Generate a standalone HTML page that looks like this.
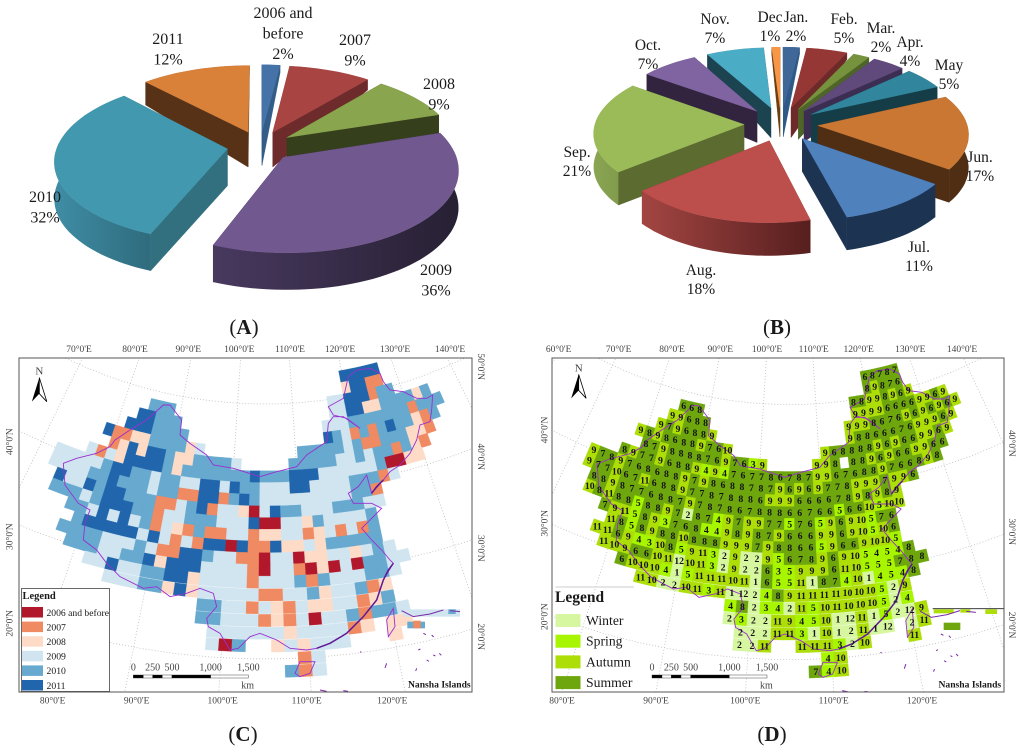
<!DOCTYPE html>
<html lang="en">
<head>
<meta charset="utf-8">
<title>Image acquisition year and month charts and maps</title>
<style>
html,body{margin:0;padding:0;background:#fff;width:1024px;height:752px;overflow:hidden}
svg{display:block}
text{font-family:"Liberation Serif",serif;fill:#1a1a1a}
</style>
</head>
<body>
<svg id="figure" xmlns="http://www.w3.org/2000/svg" width="1024" height="752" viewBox="0 0 1024 752">
<defs>
<clipPath id="clip-c"><rect x="19" y="358" width="453" height="334"/></clipPath>
<clipPath id="clip-d"><rect x="552" y="358" width="452" height="334"/></clipPath>
</defs>
<g id="pie-a"></g>
<g id="pie-b"></g>
<g id="map-c"></g>
<g id="map-d"></g>
<g id="captions">
<text x="244" y="334" font-size="21" text-anchor="middle">(<tspan font-weight="bold">A</tspan>)</text>
<text x="777" y="334" font-size="21" text-anchor="middle">(<tspan font-weight="bold">B</tspan>)</text>
<text x="243" y="741" font-size="21" text-anchor="middle">(<tspan font-weight="bold">C</tspan>)</text>
<text x="772" y="741" font-size="21" text-anchor="middle">(<tspan font-weight="bold">D</tspan>)</text>
</g>
</svg>
<script>
/* ---------- chart data ---------- */
const yearNames = ["2006 and\nbefore", "2007", "2008", "2009", "2010", "2011"];
const yearShares = [2, 9, 9, 36, 32, 12];
const monthNames = ["Jan.", "Feb.", "Mar.", "Apr.", "May", "Jun.", "Jul.", "Aug.", "Sep.", "Oct.", "Nov.", "Dec"];
const monthShares = [2, 5, 2, 4, 5, 17, 11, 18, 21, 7, 7, 1];

/* grid cells of map D: acquisition month. "startColumn:values|startColumn:values" per grid row */
const monthRows = [
"10:6 8 7 8 7",
"10:8 9 8 7 6",
"8:8 8 9 9 8 9 6 9",
"-13:6 6 8|8:9 9 9 9 6 6 6 6 9 9 6 9",
"-14:9 9 6 8 8|7:9 9 9 8 6 7 6 9 6 9 6 9 6 9",
"-15:9 7 9 6 8 8 9|7:9 8 8 6 6 6 7 6 9 9 9 6 9",
"-17:9 8 9 8 6 8 8 9 7 6 10|4:9 6 8 8 8 8 9 6 9 6 6 9 9 6 9",
"-16:8 7 9 8 8 8 8 7 6 9 7 6 3 9|3:9 9 8 . 8 8 9 6 9 6 6 9 9 6 6",
"-18:8 9 7 7 9 6 8 8 9 4 9 4 7 6 7 7 8 6 7 8 7 9 9 6 7 6 8 8 9 7 6 6 8 9 8",
"-21:9 7 8 9 7 6 8 6 8 8 9 7 9 8 6 8 8 7 8 7 9 6 9 6 9 7 7 8 9 9 9 7 9 9 6",
"-21:9 7 7 10 6 7 11 6 8 8 9 7 7 8 7 8 8 8 6 9 9 9 6 6 6 6 7 8 9 8 9 8 9",
"-20:8 8 9 8 7 7 6 8 8 7 9 7 8 7 8 6 7 8 8 8 6 6 7 6 6 5 6 6 10 5 10 10",
"-20:10 8 11 8 8 5 8 8 9 7 2 8 7 4 9 7 9 9 7 7 5 7 6 5 9 6 9 10 5 7 6",
"-18:7 9 11 5 8 9 3 7 6 8 4 4 9 8 9 8 7 9 6 6 6 9 9 6 9 10 5 10 6",
"-17:11 8 5 8 9 8 8 10 8 8 8 9 9 9 7 9 8 8 6 6 5 9 6 6 9 10 10 5",
"-18:11 11 6 9 4 3 10 8 5 9 11 3 2 9 2 2 9 5 6 7 8 9 6 9 10 5 4 5 4 8",
"-17:11 10 9 6 6 10 11 12 10 11 3 2 9 2 2 6 3 5 9 9 9 6 11 10 5 5 5 7 8 8",
"-15:6 10 10 10 4 1 5 11 11 11 10 11 1 6 5 5 11 1 8 7 4 10 1 4 5 4 8",
"-13:11 10 2 2 10 11 3 11 1 12 2 4 8 9 11 11 11 11 10 10 10 5 2 9",
"-5:4 8 2 3 4 2 11 5 10 11 10 10 10 5 2 4",
"-5:2 3 2 2 11 9 4 5 10 1 12 11 1 5 2 12 9",
"-4:2 2 2 11 11 3 1 10 1 2 11 1 12|10:2 11",
"-4:2 2 11|1:11 11 11 3 2 10|10:11",
"3:4 10",
"2:7 4 10"
];

/* grid cells of map C: acquisition year, last digit (6=2006 and before, 0=2010, 1=2011) */
const yearRows = [
"10:11111",
"10:81177",
"8:99111700",
"-13:000|8:991188000080",
"-14:11000|7:99900000007000",
"-15:1110000|7:1097070100870",
"-17:17788000089|4:000009077000887",
"-16:78181108800009|3:000009909007087",
"-18:97981111080000000100011199999906688",
"-21:99999011009009911910099911999900079",
"-21:999900100090077117010999999999007",
"-20:19910110007790179986910099900099",
"-20:0009011100799000999166998099990",
"-18:00919190798707799788997897970",
"-17:0111119197971161771889800000",
"-18:000099909771109977699688998909",
"-17:000990018111999976997686960099",
"-15:991990011899997999070999009",
"-13:999008189999977990899078",
"-5:0099798798899780",
"-5:00999787969907009",
"-4:9999998999978|10:88",
"-4:960|1:898999|10:8",
"3:79",
"2:079"
];

const seasonNames = ["Winter", "Spring", "Autumn", "Summer"];
const legendYears = ["2006 and before", "2007", "2008", "2009", "2010", "2011"];
const latTicks = [20, 30, 40, 50];
const lonTicks = [60, 70, 80, 90, 100, 110, 120, 130, 140, 150];
const scaleLabels = ["0", "250", "500", "1,000", "1,500"];

/* ---------- styling ---------- */
const colorsA = ["#4572a7", "#a84543", "#89a54e", "#71588f", "#4198af", "#d98039"];
const wallsA = ["#335d88", "#6d2c2b", "#363f1b", "#2a2238", "#33707f", "#573217"];
const rimLeftA = ["#3d6490", "#6d2c2b", "#363f1b", "#48395f", "#3f8da5", "#573217"];
const rimRightA = ["#335d88", "#6d2c2b", "#363f1b", "#272033", "#2f6b7d", "#573217"];
const colorsB = ["#3f6797", "#953735", "#76923c", "#604a7b", "#31859c", "#c97733", "#4f81bd", "#bc4e4b", "#9bbb59", "#8064a2", "#4bacc6", "#f79646"];
const wallsB = ["#2f5a88", "#6e2a28", "#4f6428", "#3c2e52", "#153d48", "#4f2e14", "#1c3352", "#7f302d", "#5c6b30", "#32243f", "#1b4450", "#6b3e12"];
const rimLeftB = ["#2f5a88", "#6e2a28", "#4f6428", "#3c2e52", "#153d48", "#4f2e14", "#1c3352", "#a34542", "#8aa653", "#32243f", "#1b4450", "#6b3e12"];
const rimRightB = ["#2f5a88", "#6e2a28", "#4f6428", "#3c2e52", "#153d48", "#4f2e14", "#1c3352", "#561f1e", "#7a9648", "#32243f", "#1b4450", "#6b3e12"];
const seasonColors = ["#d6f7a0", "#a8f500", "#aede08", "#6ea60e"];
const yearColors = {6: "#b2182b", 7: "#ef8a62", 8: "#fddbc7", 9: "#d1e5f0", 0: "#67a9cf", 1: "#2166ac"};
const legendYearColors = ["#b2182b", "#ef8a62", "#fddbc7", "#d1e5f0", "#67a9cf", "#2166ac"];

const NS = "http://www.w3.org/2000/svg";
function mk(parent, tag, attrs, txt) {
  const el = document.createElementNS(NS, tag);
  for (const k in attrs) el.setAttribute(k, attrs[k]);
  if (txt !== undefined) el.textContent = txt;
  parent.appendChild(el);
  return el;
}
const defs = document.querySelector("#figure defs");
let gradCount = 0;

/* ---------- 3D exploded pie ---------- */
function drawPie(host, cfg, values, names, colors, walls, rimL, rimR) {
  const total = values.reduce((a, b) => a + b, 0);
  const project = (X, Y) => {
    const w = 1 + cfg.persp * Y;
    return [cfg.cx + X / w, cfg.cy - cfg.tilt * Y / w];
  };
  const depthAt = (X, Y) => {
    const t = Y / cfg.r;
    let f = 1;
    if (t > 0.1) {
      const side = X < 0 ? cfg.leftBoost : cfg.rightFade;
      f = 1 - (t - 0.1) / 0.85 * cfg.fade - side * (X / cfg.r) * t;
    }
    return cfg.depth * Math.min(1, Math.max(0.2, f));
  };
  const slices = [];
  let acc = 0;
  values.forEach((v, i) => {
    const a0 = acc / total * 2 * Math.PI;
    acc += v;
    const a1 = acc / total * 2 * Math.PI;
    slices.push({i, a0, a1, mid: (a0 + a1) / 2});
  });
  slices.sort((a, b) => Math.abs(b.mid - Math.PI) - Math.abs(a.mid - Math.PI));
  const str = pts => pts.map(p => p[0].toFixed(1) + "," + p[1].toFixed(1)).join(" ");
  slices.forEach(s => {
    const ox = cfg.explode * Math.sin(s.mid), oy = cfg.explode * Math.cos(s.mid);
    const top = [], bottom = [];
    const steps = Math.max(3, Math.ceil((s.a1 - s.a0) / 0.04));
    for (let k = 0; k <= steps; k++) {
      const a = s.a0 + (s.a1 - s.a0) * k / steps;
      const X = ox + cfg.r * Math.sin(a), Y = oy + cfg.r * Math.cos(a);
      const p = project(X, Y);
      top.push(p);
      bottom.push([p[0], p[1] + depthAt(X, Y)]);
    }
    const apex = project(ox, oy);
    const apexLow = [apex[0], apex[1] + depthAt(ox, oy)];
    const g = mk(host, "g", {});
    
    
    const wallStart = [apex, top[0], bottom[0], apexLow];
    const wallEnd = [apex, top[steps], bottom[steps], apexLow];
    const ordered = top[0][1] < top[steps][1] ? [wallStart, wallEnd] : [wallEnd, wallStart];
    ordered.forEach(q => {
      const wall = mk(g, "polygon", {points: str(q), fill: walls[s.i], stroke: walls[s.i], "stroke-width": 0.4});
      
      
    });
    const gid = "rim-grad-" + (gradCount++);
    const lg = mk(defs, "linearGradient", {id: gid, x1: 0, x2: 1, y1: 0, y2: 0});
    mk(lg, "stop", {offset: 0, "stop-color": rimL[s.i]});
    mk(lg, "stop", {offset: 1, "stop-color": rimR[s.i]});
    const rim = mk(g, "polygon", {points: str(top.concat(bottom.slice().reverse())), fill: "url(#" + gid + ")"});
    
    
    const face = mk(g, "polygon", {points: str([apex].concat(top)), fill: colors[s.i], stroke: colors[s.i], "stroke-width": 0.4});
    
    
  });
}
function pieLabel(host, names, values, idx, x, y, size, lh) {
  const lines = names[idx].split("\n").concat([values[idx] + "%"]);
  lines.forEach((line, n) => {
    const t = mk(host, "text", {x: x, y: y + n * lh, "font-size": size, "text-anchor": "middle"}, line);
    
    
  });
}

const pieA = document.getElementById("pie-a");
drawPie(pieA, {cx: 260, cy: 146, r: 170, explode: 33, tilt: 0.465, persp: 0.0008, depth: 37, fade: 0.65, leftBoost: 0.35, rightFade: 0.1},
  yearShares, yearNames, colorsA, wallsA, rimLeftA, rimRightA);
pieLabel(pieA, yearNames, yearShares, 0, 283, 18, 16, 20.5);
pieLabel(pieA, yearNames, yearShares, 1, 355, 45, 16, 20.5);
pieLabel(pieA, yearNames, yearShares, 2, 439, 89, 16, 20.5);
pieLabel(pieA, yearNames, yearShares, 3, 436, 275, 16, 20.5);
pieLabel(pieA, yearNames, yearShares, 4, 45, 202, 16, 20.5);
pieLabel(pieA, yearNames, yearShares, 5, 168, 44, 16, 20.5);

const pieB = document.getElementById("pie-b");
drawPie(pieB, {cx: 781, cy: 124, r: 149, explode: 37, tilt: 0.467, persp: 0.0007, depth: 33, fade: 0.6, leftBoost: 0.2, rightFade: 0.2},
  monthShares, monthNames, colorsB, wallsB, rimLeftB, rimRightB);
pieLabel(pieB, monthNames, monthShares, 0, 796, 22, 15.5, 19);
pieLabel(pieB, monthNames, monthShares, 1, 844, 24, 15.5, 19);
pieLabel(pieB, monthNames, monthShares, 2, 881, 33, 15.5, 19);
pieLabel(pieB, monthNames, monthShares, 3, 910, 47, 15.5, 19);
pieLabel(pieB, monthNames, monthShares, 4, 949, 70, 15.5, 19);
pieLabel(pieB, monthNames, monthShares, 5, 980, 162, 15.5, 19);
pieLabel(pieB, monthNames, monthShares, 6, 919, 252, 15.5, 19);
pieLabel(pieB, monthNames, monthShares, 7, 701, 275, 15.5, 19);
pieLabel(pieB, monthNames, monthShares, 8, 577, 157, 15.5, 19);
pieLabel(pieB, monthNames, monthShares, 9, 648, 50, 15.5, 19);
pieLabel(pieB, monthNames, monthShares, 10, 715, 24, 15.5, 19);
pieLabel(pieB, monthNames, monthShares, 11, 770, 22, 15.5, 19);

/* ---------- conic map helpers (working units: 1/3 px relative to panel) ---------- */
const COL_STEP = 0.019;
const rowRadius = i => 1195 + 35.1 * i + Math.max(0, i - 17) * 3.2;
const latRadius = lat => 1512 + (40 - lat) * 25.5;
const lonAngle = lon => (lon - 105) * 0.01248;
function toPx(m, R, phi) {
  const X = m.cx + m.sx * R * Math.sin(phi);
  const Y = R * Math.cos(phi) - 1063 + m.dy;
  return [m.ox + X / 3, 340 + Y / 3];
}
function parseRow(str, splitter) {
  const cells = [];
  str.split("|").forEach(seg => {
    const parts = seg.split(":");
    const start = parseInt(parts[0], 10);
    parts[1].split(splitter).forEach((tok, n) => {
      if (tok !== ".") cells.push({col: start + n, value: tok});
    });
  });
  return cells;
}
function cellQuad(m, i, col) {
  const r0 = rowRadius(i) - 18.2, r1 = rowRadius(i) + 18.2;
  const p0 = (col - 0.52) * COL_STEP, p1 = (col + 0.52) * COL_STEP;
  return [toPx(m, r0, p0), toPx(m, r0, p1), toPx(m, r1, p1), toPx(m, r1, p0)]
    .map(p => p[0].toFixed(1) + "," + p[1].toFixed(1)).join(" ");
}
function drawGraticule(g, m) {
  latTicks.forEach(lat => {
    const pts = [];
    for (let lon = 55; lon <= 155; lon += 4) {
      const p = toPx(m, latRadius(lat), lonAngle(lon));
      pts.push(p[0].toFixed(1) + "," + p[1].toFixed(1));
    }
    const l = mk(g, "polyline", {points: pts.join(" "), fill: "none", stroke: "#bcbcbc", "stroke-width": 0.8, "stroke-dasharray": "1 2"});
    
    
  });
  lonTicks.forEach(lon => {
    const a = toPx(m, latRadius(60), lonAngle(lon));
    const b = toPx(m, latRadius(10), lonAngle(lon));
    const l = mk(g, "line", {x1: a[0], y1: a[1], x2: b[0], y2: b[1], stroke: "#bcbcbc", "stroke-width": 0.8, "stroke-dasharray": "1 2"});
    
    
  });
}
const borderPath = "M1045 110L1070 90L1110 85L1140 100L1150 125L1170 150L1210 155L1250 175L1280 175L1298 165L1295 210L1290 245L1260 255L1250 300L1230 340L1200 375L1170 395L1150 420L1115 460L1100 405L1075 440L1045 460L1060 490L1115 490L1145 505L1105 545L1085 565L1115 600L1145 630L1170 660L1180 670L1150 720L1130 780L1090 830L1040 880L990 910L950 925L920 930L870 925L830 900L780 880L750 890L715 925L690 930L660 880L625 860L620 835L650 800L640 760L600 745L560 760L510 770L470 740L430 745L360 710L320 670L290 630L250 600L255 550L270 510L235 490L195 435L190 370L230 355L290 340L330 320L345 300L390 270L440 240L490 195L510 195L545 240L540 285L570 310L620 345L640 375L700 385L780 410L830 395L890 380L920 345L980 305L985 250L1000 230L1030 230L1080 265L1040 235L1000 225L985 200L1030 175Z M1165 890L1160 840L1180 805L1185 860Z M885 1000L900 965L945 965L930 1000L900 1010Z";
const coastPath = "M1180 670L1165 690L1150 720L1130 780L1090 830L1040 880L990 910L950 925 M1115 460L1130 440L1150 420";
const islandPath = "M1205 812L1240 830L1290 822L1330 810 M1350 812L1380 815 M1270 880l8 4 M1295 885l6 6 M1255 930l6 -3 M1280 960l7 4 M1300 945l6 3 M1318 940l6 6 M1250 985l-3 8 M1160 970l-5 14 M1080 935l4 2 M960 1050l20 4 M1030 1052l14 2";
function drawBorder(g, transform) {
  const wrap = mk(g, "g", {transform: transform});
  
  
  const a = mk(wrap, "path", {d: borderPath, fill: "none", stroke: "#9a2fd0", "stroke-width": 0.9, "vector-effect": "non-scaling-stroke"});
  
  
  const b = mk(wrap, "path", {d: coastPath, fill: "none", stroke: "#5e1a96", "stroke-width": 1.5, "vector-effect": "non-scaling-stroke"});
  
  
  const c = mk(wrap, "path", {d: islandPath, fill: "none", stroke: "#7a2aa8", "stroke-width": 1, "vector-effect": "non-scaling-stroke"});
  
  
}
function frameText(g, ox, X, Y, txt, rot, size) {
  const x = ox + X / 3, y = 340 + Y / 3;
  const attrs = {x: x, y: y, "font-size": size || 9.5, "text-anchor": "middle", "dominant-baseline": "central", fill: "#444"};
  if (rot) attrs.transform = "rotate(" + rot + " " + x + " " + y + ")";
  const t = mk(g, "text", attrs, txt);
  t.style.fill = "#444";
  
  
}
const lonLabel = v => v + "°0'E";
const latLabel = v => v + "°0'N";
function scaleBar(g, ox, x0) {
  const stops = [0, 30, 58, 87, 116, 232, 345];
  for (let k = 0; k < stops.length - 1; k++) {
    const r = mk(g, "rect", {x: ox + (x0 + stops[k]) / 3, y: 340 + 1005 / 3, width: (stops[k + 1] - stops[k]) / 3, height: 3, fill: k % 2 ? "#fff" : "#000", stroke: "#222", "stroke-width": 0.4});
    
    
  }
  [0, 58, 116, 232, 345].forEach((off, n) => {
    frameText(g, ox, x0 + off, 984, scaleLabels[n], 0, 10);
  });
  frameText(g, ox, x0 + 343, 1038, "km", 0, 10);
}
function northArrow(g, ox, X, Y) {
  frameText(g, ox, X, Y, "N", 0, 11);
  const x = ox + X / 3, y = 340 + Y / 3;
  const left = mk(g, "polygon", {points: `${x},${y + 6} ${x - 7.5},${y + 30} ${x},${y + 22}`, fill: "#000"});
  
  
  const right = mk(g, "polygon", {points: `${x},${y + 6} ${x + 7.5},${y + 30} ${x},${y + 22}`, fill: "#fff", stroke: "#000", "stroke-width": 0.8});
  
  
}

/* ---------- Map C ---------- */
const mapC = document.getElementById("map-c");
const mC = {ox: 0, cx: 795, sx: 1.047, dy: -2};
const clipC = mk(mapC, "g", {"clip-path": "url(#clip-c)"});


drawGraticule(clipC, mC);
yearRows.forEach((row, i) => {
  parseRow(row, "").forEach(c => {
    const col = yearColors[c.value];
    const cell = mk(clipC, "polygon", {points: cellQuad(mC, i, c.col), fill: col, stroke: col, "stroke-width": 0.3});
    
    
  });
});
[[1210, 808, 170, 22, "#d1e5f0"], [1222, 845, 53, 20, "#67a9cf"], [1240, 842, 22, 23, "#ef8a62"], [1345, 808, 22, 14, "#67a9cf"]].forEach(b => {
  const r = mk(clipC, "rect", {x: b[0] / 3, y: 340 + b[1] / 3, width: b[2] / 3, height: b[3] / 3, fill: b[4]});
  
  
});
drawBorder(clipC, "translate(0,340) scale(0.33333)");
const frameC = mk(mapC, "rect", {x: 19, y: 358, width: 453, height: 334, fill: "none", stroke: "#555", "stroke-width": 1});



frameText(mapC, 0, 237, 30, lonLabel(70));
frameText(mapC, 0, 405, 30, lonLabel(80));
frameText(mapC, 0, 565, 30, lonLabel(90));
frameText(mapC, 0, 718, 30, lonLabel(100));
frameText(mapC, 0, 870, 30, lonLabel(110));
frameText(mapC, 0, 1020, 30, lonLabel(120));
frameText(mapC, 0, 1185, 30, lonLabel(130));
frameText(mapC, 0, 1350, 30, lonLabel(140));
frameText(mapC, 0, 158, 1085, lonLabel(80));
frameText(mapC, 0, 410, 1085, lonLabel(90));
frameText(mapC, 0, 668, 1085, lonLabel(100));
frameText(mapC, 0, 920, 1085, lonLabel(110));
frameText(mapC, 0, 1177, 1085, lonLabel(120));
frameText(mapC, 0, 32, 305, latLabel(40), -90);
frameText(mapC, 0, 32, 590, latLabel(30), -90);
frameText(mapC, 0, 32, 850, latLabel(20), -90);
frameText(mapC, 0, 1440, 80, latLabel(50), 90);
frameText(mapC, 0, 1440, 350, latLabel(40), 90);
frameText(mapC, 0, 1440, 625, latLabel(30), 90);
frameText(mapC, 0, 1440, 890, latLabel(20), 90);

northArrow(mapC, 0, 118, 95);
scaleBar(mapC, 0, 400);
const nanshaC = mk(mapC, "text", {x: 408, y: 690 - 2.5, "font-size": 9.6, "font-weight": "bold"}, "Nansha Islands");



const legendC = mk(mapC, "g", {});


const legendBoxC = mk(legendC, "rect", {x: 21.5, y: 588.5, width: 88, height: 103, fill: "#fff", stroke: "#444", "stroke-width": 0.8});


const legendTitleC = mk(legendC, "text", {x: 22.5, y: 599, "font-size": 10.5, "font-weight": "bold"}, "Legend");


legendYears.forEach((name, n) => {
  const y = 607 + n * 14.6;
  const sw = mk(legendC, "rect", {x: 22, y: y, width: 21, height: 10.5, fill: legendYearColors[n]});
  
  
  const t = mk(legendC, "text", {x: 46.5, y: y + 8.8, "font-size": 9.7, textLength: n === 0 ? 62.5 : "", lengthAdjust: "spacingAndGlyphs"}, name);
  if (n !== 0) t.removeAttribute("textLength");
  
  
});

/* ---------- Map D ---------- */
const mapD = document.getElementById("map-d");
const mD = {ox: 512, cx: 833, sx: 1, dy: 0};
const seasonOf = m => (m === 12 || m <= 2) ? 0 : (m <= 5 ? 1 : (m <= 8 ? 3 : 2));
const clipD = mk(mapD, "g", {"clip-path": "url(#clip-d)"});


drawGraticule(clipD, mD);
const parsedMonths = monthRows.map(row => parseRow(row, " "));
parsedMonths.forEach((cells, i) => {
  cells.forEach(c => {
    const col = seasonColors[seasonOf(parseInt(c.value, 10))];
    const cell = mk(clipD, "polygon", {points: cellQuad(mD, i, c.col), fill: col, stroke: col, "stroke-width": 0.3});
    
    
  });
});
[[1265, 808, 60, 12, "#aede08"], [1345, 808, 30, 10, "#aede08"], [1420, 808, 35, 14, "#aede08"], [1295, 848, 50, 22, "#6ea60e"]].forEach(b => {
  const r = mk(clipD, "rect", {x: 512 + b[0] / 3, y: 340 + b[1] / 3, width: b[2] / 3, height: b[3] / 3, fill: b[4]});
  
  
});
drawBorder(clipD, "translate(512,340) scale(0.33333) translate(833,2) scale(0.955,1) translate(-795,0)");
parsedMonths.forEach((cells, i) => {
  cells.forEach(c => {
    const p = toPx(mD, rowRadius(i), c.col * COL_STEP);
    const t = mk(clipD, "text", {x: p[0].toFixed(1), y: (p[1] + 3.2).toFixed(1), "font-size": 9.8, "font-weight": "bold", "text-anchor": "middle"}, c.value);
    t.style.fill = "#141414";
    
    
  });
});
const insetLine = mk(mapD, "line", {x1: 512 + 1262 / 3, y1: 340 + 806 / 3, x2: 1004, y2: 340 + 806 / 3, stroke: "#222", "stroke-width": 0.9});


const frameD = mk(mapD, "rect", {x: 552, y: 358, width: 452, height: 334, fill: "none", stroke: "#555", "stroke-width": 1});



frameText(mapD, 512, 140, 30, lonLabel(60));
frameText(mapD, 512, 320, 30, lonLabel(70));
frameText(mapD, 512, 480, 30, lonLabel(80));
frameText(mapD, 512, 625, 30, lonLabel(90));
frameText(mapD, 512, 765, 30, lonLabel(100));
frameText(mapD, 512, 905, 30, lonLabel(110));
frameText(mapD, 512, 1040, 30, lonLabel(120));
frameText(mapD, 512, 1195, 30, lonLabel(130));
frameText(mapD, 512, 1350, 30, lonLabel(140));
frameText(mapD, 512, 150, 1085, lonLabel(80));
frameText(mapD, 512, 432, 1085, lonLabel(90));
frameText(mapD, 512, 700, 1085, lonLabel(100));
frameText(mapD, 512, 965, 1085, lonLabel(110));
frameText(mapD, 512, 1230, 1085, lonLabel(120));
frameText(mapD, 512, 100, 270, latLabel(40), -90);
frameText(mapD, 512, 100, 550, latLabel(30), -90);
frameText(mapD, 512, 100, 830, latLabel(20), -90);
frameText(mapD, 512, 1497, 310, latLabel(40), 90);
frameText(mapD, 512, 1497, 575, latLabel(30), 90);
frameText(mapD, 512, 1497, 855, latLabel(20), 90);

northArrow(mapD, 512, 200, 85);
scaleBar(mapD, 512, 420);
const nanshaD = mk(mapD, "text", {x: 938.5, y: 690 - 2.5, "font-size": 9.6, "font-weight": "bold"}, "Nansha Islands");



const legendD = mk(mapD, "g", {});


const legendRule = mk(legendD, "line", {x1: 555.5, y1: 587, x2: 634, y2: 587, stroke: "#bbb", "stroke-width": 0.8});


const legendTitleD = mk(legendD, "text", {x: 555, y: 602, "font-size": 15.5, "font-weight": "bold"}, "Legend");


seasonNames.forEach((name, n) => {
  const y = 614 + n * 20.7;
  const sw = mk(legendD, "rect", {x: 555.5, y: y, width: 25, height: 13, fill: seasonColors[n]});
  
  
  const t = mk(legendD, "text", {x: 586, y: y + 11, "font-size": 13.7}, name);
  
  
});
</script>
</body>
</html>
